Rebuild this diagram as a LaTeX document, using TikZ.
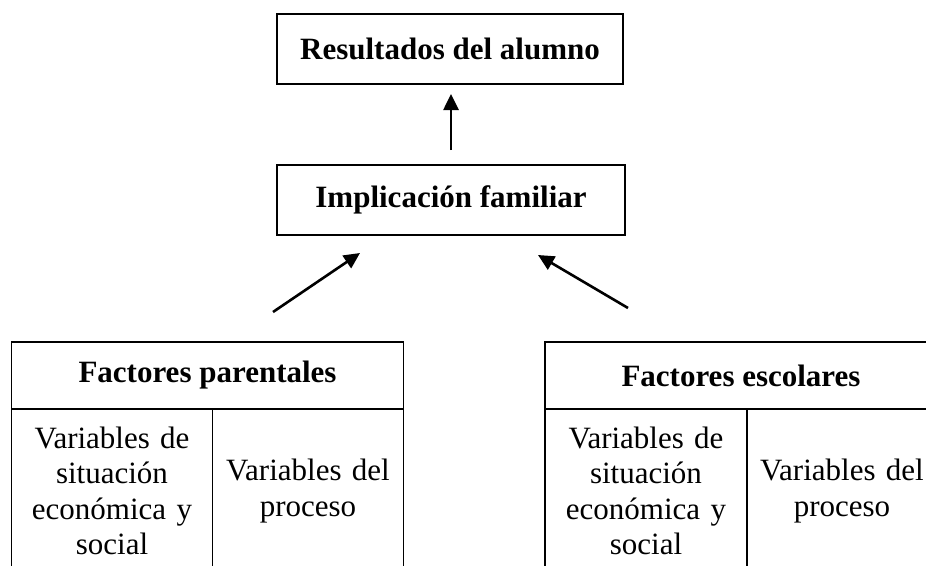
\documentclass[tikz,border=0pt]{standalone}
\usepackage{fontspec}
\setmainfont{Liberation Serif}
\usetikzlibrary{arrows.meta,positioning}

\begin{document}
\begin{tikzpicture}[x=1pt,y=-1pt,
    every node/.style={font=\fontsize{31}{35.3}\selectfont, inner sep=0pt, outer sep=0pt},
    caja/.style={draw, line width=1.3pt, minimum width=#1, minimum height=70pt,
      font=\fontsize{31}{35.3}\selectfont\bfseries},
    cabecera/.style={draw, line width=1.3pt, minimum width=392pt, minimum height=67pt,
      font=\fontsize{31}{35.3}\selectfont\bfseries},
    celda/.style={draw, line width=1.3pt, text width=180pt, align=center,
      minimum width=#1, minimum height=164pt},
    flecha/.style={line width=2.6pt, -{Triangle[length=16pt,width=15pt]}}]
    \clip (0,0) rectangle (926,565);
    % Top Row (outcome)
    \node[caja=346pt] (res) at (450,49) {Resultados del alumno};
    % Middle Row (involvement)
    \node[caja=348pt] (impl) at (451,200) {Implicación familiar};
    % Bottom Row (parental factors)
    \node[cabecera] (phdr) at (207.5,375.5) {Factores parentales};
    \node[celda=201pt, anchor=north west] (psit) at (phdr.south west)
      {Variables de\\situación\\económica y\\social};
    \node[celda=191pt, anchor=north west] (pproc) at (psit.north east)
      {Variables del\\proceso};
    % Bottom Row (school factors)
    \node[cabecera] (ehdr) at (741,375.5) {Factores escolares};
    \node[celda=202pt, anchor=north west] (esit) at (ehdr.south west)
      {Variables de\\situación\\económica y\\social};
    \node[celda=190pt, anchor=north west] (eproc) at (esit.north east)
      {Variables del\\proceso};
    % free arrow ends
    \coordinate (pcola) at (273,312);
    \coordinate (ppunta) at (360,253);
    \coordinate (ecola) at (628,308);
    \coordinate (epunta) at (538,255);
    \draw[flecha, shorten <=15pt, shorten >=10pt] (impl.north) -- (impl.north |- res.south);
    \draw[flecha] (pcola) -- (ppunta);
    \draw[flecha] (ecola) -- (epunta);
\end{tikzpicture}
\end{document}
